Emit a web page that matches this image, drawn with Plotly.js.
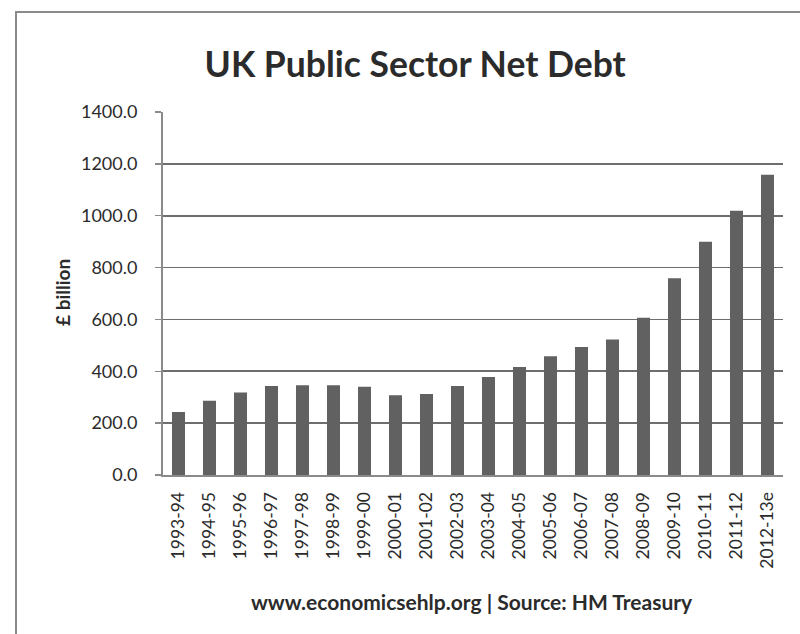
<!DOCTYPE html>
<html>
<head>
<meta charset="utf-8">
<script src="https://cdn.plot.ly/plotly-3.0.1.min.js"></script>
<style>
html,body{margin:0;padding:0;background:#fff;}
#wrap{position:relative;width:800px;height:634px;overflow:hidden;}
#chart{position:absolute;left:0;top:0;width:800px;height:634px;}
#frame{position:absolute;left:15px;top:11px;width:800px;height:700px;border-top:2px solid #8a8a8a;border-left:2px solid #8a8a8a;pointer-events:none;}
</style>
</head>
<body>
<div id="wrap">
<div id="chart"></div>
<div id="frame"></div>
</div>
<script>
const years = ["1993-94","1994-95","1995-96","1996-97","1997-98","1998-99","1999-00","2000-01","2001-02","2002-03","2003-04","2004-05","2005-06","2006-07","2007-08","2008-09","2009-10","2010-11","2011-12","2012-13e"];
const debt = [243,286,318,343,346,346,340,308,312,343,378,417,458,494,523,606,759,900,1019,1158];
const yTicks = [0,200,400,600,800,1000,1200,1400];

const FONT = "Lato, 'Open Sans', sans-serif";
const trace = {
  type: "bar",
  x: years,
  y: debt,
  marker: {color: "#616161"},
  hoverinfo: "x+y"
};
const layout = {
  width: 800, height: 634,
  margin: {l: 163, r: 17, t: 112, b: 159},
  paper_bgcolor: "#ffffff",
  plot_bgcolor: "#ffffff",
  bargap: 0.58,
  showlegend: false,
  font: {family: FONT, color: "#2b2b2b"},
  title: {
    text: "<b>UK Public Sector Net Debt</b>",
    font: {family: FONT, size: 35.5, color: "#2b2b2b"},
    xref: "container", x: 0.519, xanchor: "center",
    yref: "container", y: 1 - 65/634, yanchor: "middle"
  },
  xaxis: {
    type: "category",
    tickangle: -90,
    tickfont: {family: FONT, size: 17.5, color: "#2b2b2b"},
    showline: true, linecolor: "#8a8a8a", linewidth: 2,
    ticks: "", showgrid: false,
    ticklabelstandoff: 8
  },
  yaxis: {
    range: [0, 1400],
    tickvals: yTicks,
    tickformat: ".1f",
    tickfont: {family: FONT, size: 18, color: "#2b2b2b"},
    showline: true, linecolor: "#8a8a8a", linewidth: 2,
    ticks: "outside", ticklen: 6, tickcolor: "#8a8a8a", tickwidth: 1.5,
    showgrid: true, gridcolor: "#6e6e6e", gridwidth: 1.8,
    zeroline: false,
    ticklabelstandoff: 14
  },
  annotations: [
    {
      text: "<b>£ billion</b>",
      xref: "paper", yref: "paper",
      x: (62 - 163) / 620, y: (475 - 293) / 363,
      xanchor: "center", yanchor: "middle",
      textangle: -90, showarrow: false,
      font: {family: FONT, size: 19, color: "#2b2b2b"}
    },
    {
      text: "<b>www.economicsehlp.org | Source: HM Treasury</b>",
      xref: "paper", yref: "paper",
      x: (471.5 - 163) / 620, y: (475 - 601) / 363,
      xanchor: "center", yanchor: "middle",
      showarrow: false,
      font: {family: FONT, size: 21, color: "#2b2b2b"}
    }
  ]
};
Plotly.newPlot("chart", [trace], layout, {displayModeBar: false, staticPlot: true});
</script>
</body>
</html>
